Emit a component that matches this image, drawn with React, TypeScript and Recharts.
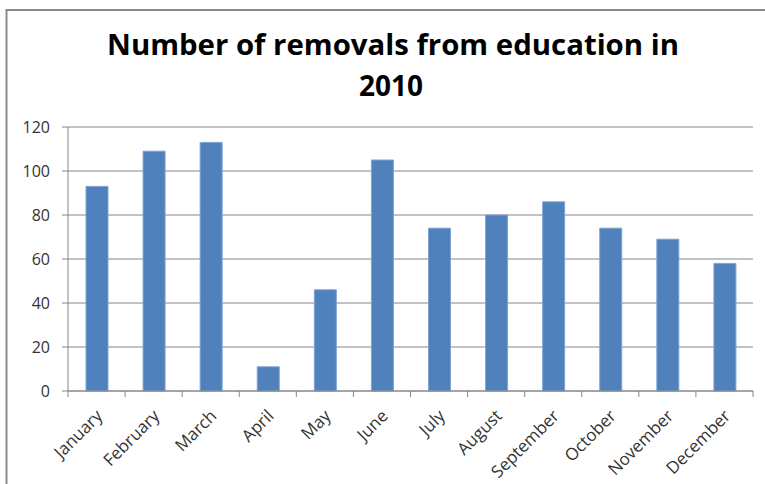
import React from "react";
import { BarChart, Bar, XAxis, YAxis, CartesianGrid } from "recharts";

const months = [
  "January", "February", "March", "April", "May", "June",
  "July", "August", "September", "October", "November", "December",
];
const removals = [93, 109, 113, 11, 46, 105, 74, 80, 86, 74, 69, 58];
const yTicks = [0, 20, 40, 60, 80, 100, 120];
const titleLines = ["Number of removals from education in", "2010"];

const data = months.map((m, i) => ({ month: m, value: removals[i] }));

const FONT = "'Open Sans', 'DejaVu Sans', sans-serif";
const GRID = "#868686";

const XTick = (props: any) => {
  const { x, y, payload, index, visibleTicksCount } = props;
  const off = payload && typeof payload.offset === "number" ? payload.offset : 0;
  const last = index === (visibleTicksCount ?? 12) - 1;
  return (
    <g>
      <line x1={x - off} x2={x - off} y1={y} y2={y + 6} stroke={GRID} strokeWidth={1} />
      {last && <line x1={x + off} x2={x + off} y1={y} y2={y + 6} stroke={GRID} strokeWidth={1} />}
      <text
        x={x + 7}
        y={y + 26}
        textAnchor="end"
        transform={`rotate(-45 ${x + 7} ${y + 26})`}
        fontFamily={FONT}
        fontSize={17}
        fill="#333"
      >
        {payload.value}
      </text>
    </g>
  );
};

export default function App() {
  return (
    <div style={{ position: "absolute", left: 0, top: 0, width: 765, height: 484, background: "#fff" }}>
      <BarChart
        width={765}
        height={484}
        data={data}
        margin={{ top: 127, right: 12, bottom: 13, left: 8 }}
        barSize={22}
      >
        <CartesianGrid vertical={false} stroke={GRID} strokeWidth={1} />
        <XAxis
          dataKey="month"
          interval={0}
          height={80}
          tickLine={false}
          tickSize={0}
          tickMargin={0}
          axisLine={{ stroke: GRID, strokeWidth: 1 }}
          tick={<XTick />}
        />
        <YAxis
          width={60}
          domain={[0, 120]}
          ticks={yTicks}
          tickSize={6}
          tickMargin={12}
          axisLine={{ stroke: GRID, strokeWidth: 1 }}
          tickLine={{ stroke: GRID, strokeWidth: 1 }}
          tick={{ fontFamily: FONT, fontSize: 16, fill: "#333" }}
        />
        <Bar dataKey="value" fill="#4F81BD" stroke="#7FA3D3" strokeWidth={1} isAnimationActive={false} />
      </BarChart>
      <svg
        width={765}
        height={484}
        style={{ position: "absolute", left: 0, top: 0, pointerEvents: "none" }}
      >
        <line x1={6.5} x2={6.5} y1={9} y2={484} stroke="#8c8c8c" strokeWidth={2} />
        <line x1={6} x2={765} y1={10} y2={10} stroke="#8c8c8c" strokeWidth={2} />
        <text
          x={393}
          y={55}
          textAnchor="middle"
          fontFamily={FONT}
          fontWeight="bold"
          fontSize={28}
          textLength={572}
          lengthAdjust="spacingAndGlyphs"
          fill="#000"
        >
          {titleLines[0]}
        </text>
        <text
          x={391}
          y={96}
          textAnchor="middle"
          fontFamily={FONT}
          fontWeight="bold"
          fontSize={28}
          fill="#000"
        >
          {titleLines[1]}
        </text>
      </svg>
    </div>
  );
}
